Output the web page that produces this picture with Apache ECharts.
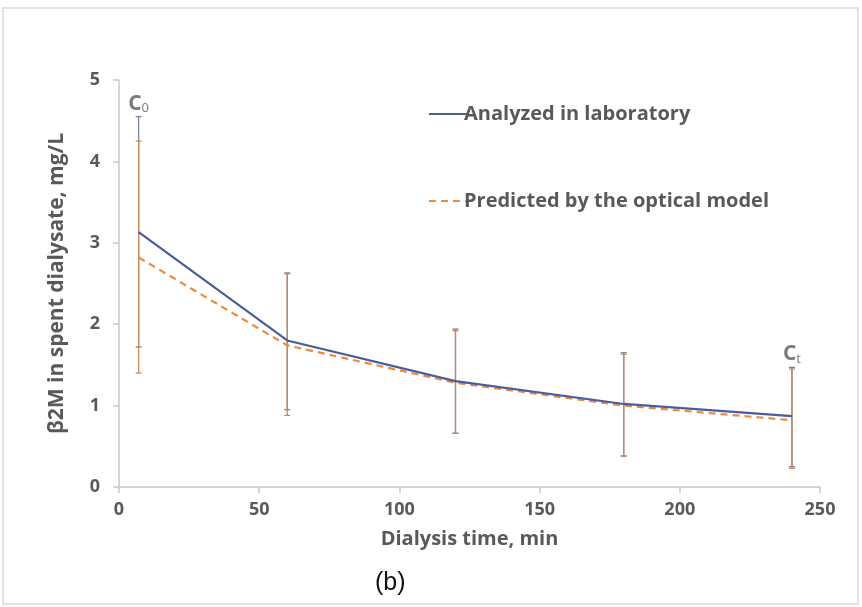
<!DOCTYPE html>
<html><head><meta charset="utf-8">
<script src="https://cdn.jsdelivr.net/npm/echarts@6/dist/echarts.min.js"></script>
<style>html,body{margin:0;padding:0;background:#fff}#c{width:862px;height:607px}</style>
</head><body><div id="c"></div>
<script>
const times = [7, 60, 120, 180, 240];
const labValues = [3.13, 1.80, 1.30, 1.02, 0.87];
const modelValues = [2.82, 1.74, 1.28, 1.00, 0.82];
const labErrHigh = [4.55, 2.63, 1.94, 1.65, 1.47];
const labErrLow = [1.72, 0.95, 0.66, 0.38, 0.25];
const modelErrHigh = [4.25, 2.62, 1.92, 1.63, 1.45];
const modelErrLow = [1.40, 0.88, 0.66, 0.38, 0.23];
const xTicks = [0, 50, 100, 150, 200, 250];
const yTicks = [0, 1, 2, 3, 4, 5];
const annotations = [{x: 7, y: 4.55, text: '{c|C}{s|0}'}, {x: 240, y: 1.47, text: '{c|C}{s|t}'}];

const FONT = '"Open Sans", "DejaVu Sans", sans-serif';
const chart = echarts.init(document.getElementById('c'), null, {renderer: 'canvas'});

function errSeries(name, lo, hi, color) {
  return {
    type: 'custom', name: name, silent: true, z: 3,
    data: times.map((t, i) => [t, lo[i], hi[i]]),
    renderItem: function (params, api) {
      const p1 = api.coord([api.value(0), api.value(1)]);
      const p2 = api.coord([api.value(0), api.value(2)]);
      const w = 3;
      const st = {stroke: color, lineWidth: 1.3};
      return {type: 'group', children: [
        {type: 'line', shape: {x1: p1[0], y1: p1[1], x2: p2[0], y2: p2[1]}, style: st},
        {type: 'line', shape: {x1: p1[0]-w, y1: p1[1], x2: p1[0]+w, y2: p1[1]}, style: st},
        {type: 'line', shape: {x1: p2[0]-w, y1: p2[1], x2: p2[0]+w, y2: p2[1]}, style: st}
      ]};
    }
  };
}

chart.setOption({
  backgroundColor: '#fff',
  animation: false,
  grid: {left: 119, right: 42, top: 80, bottom: 120, containLabel: false},
  legend: {
    orient: 'vertical', left: 423, top: 99, itemGap: 67,
    itemWidth: 38, itemHeight: 14,
    itemStyle: {opacity: 0},
    data: ['Analyzed in laboratory', 'Predicted by the optical model'],
    textStyle: {fontFamily: FONT, fontWeight: 'bold', fontSize: 20, color: '#595959', padding: [0, 0, 0, -8]}
  },
  xAxis: {
    type: 'value', min: 0, max: 250, interval: 50,
    name: 'Dialysis time, min', nameLocation: 'middle', nameGap: 52,
    nameTextStyle: {fontFamily: FONT, fontWeight: 'bold', fontSize: 20, color: '#595959', verticalAlign: 'middle'},
    axisLine: {show: true, lineStyle: {color: '#c8c8c8', width: 1.5}},
    axisTick: {show: true, length: 6, lineStyle: {color: '#c8c8c8', width: 1.5}},
    axisLabel: {fontFamily: FONT, fontWeight: 'bold', fontSize: 18, color: '#595959', margin: 14,
      customValues: xTicks},
    splitLine: {show: false}
  },
  yAxis: {
    type: 'value', min: 0, max: 5, interval: 1,
    name: 'β2M in spent dialysate, mg/L', nameLocation: 'middle', nameGap: 62,
    nameTextStyle: {fontFamily: FONT, fontWeight: 'bold', fontSize: 21, color: '#595959', verticalAlign: 'middle'},
    axisLine: {show: true, lineStyle: {color: '#c8c8c8', width: 1.5}},
    axisTick: {show: true, length: 6, lineStyle: {color: '#c8c8c8', width: 1.5}},
    axisLabel: {fontFamily: FONT, fontWeight: 'bold', fontSize: 18, color: '#595959', margin: 19,
      customValues: yTicks},
    splitLine: {show: false}
  },
  series: [
    errSeries('labErr', labErrLow, labErrHigh, '#7a82a8'),
    errSeries('modelErr', modelErrLow, modelErrHigh, '#c98a5a'),
    {
      name: 'Analyzed in laboratory', type: 'line', z: 5,
      data: times.map((t, i) => [t, labValues[i]]),
      symbol: 'none', lineStyle: {color: '#4a5c9c', width: 2.2},
      itemStyle: {color: '#4a5c9c'}
    },
    {
      name: 'Predicted by the optical model', type: 'line', z: 4,
      data: times.map((t, i) => [t, modelValues[i]]),
      symbol: 'none', lineStyle: {color: '#ee8a3c', width: 2.2, type: [7, 5]},
      itemStyle: {color: '#ee8a3c'}
    },
    {
      type: 'scatter', name: 'notes', silent: true, symbolSize: 0,
      data: annotations.map(a => ({value: [a.x, a.y], label: {formatter: a.text}})),
      label: {show: true, position: 'top', distance: 2,
        rich: {
          c: {fontFamily: FONT, fontWeight: 'bold', fontSize: 21, color: '#595959'},
          s: {fontFamily: FONT, fontSize: 13, color: '#595959', verticalAlign: 'bottom', padding: [9, 0, 0, 0]}
        }}
    }
  ],
  graphic: [
    {type: 'rect', shape: {x: 3, y: 8, width: 855, height: 596}, style: {fill: null, stroke: '#d9d9d9', lineWidth: 1.5}, silent: true},
    {type: 'text', left: 375, top: 571, style: {text: '(b)', font: '25px "Liberation Sans", Arial, sans-serif', fill: '#111'}}
  ]
});
</script></body></html>
